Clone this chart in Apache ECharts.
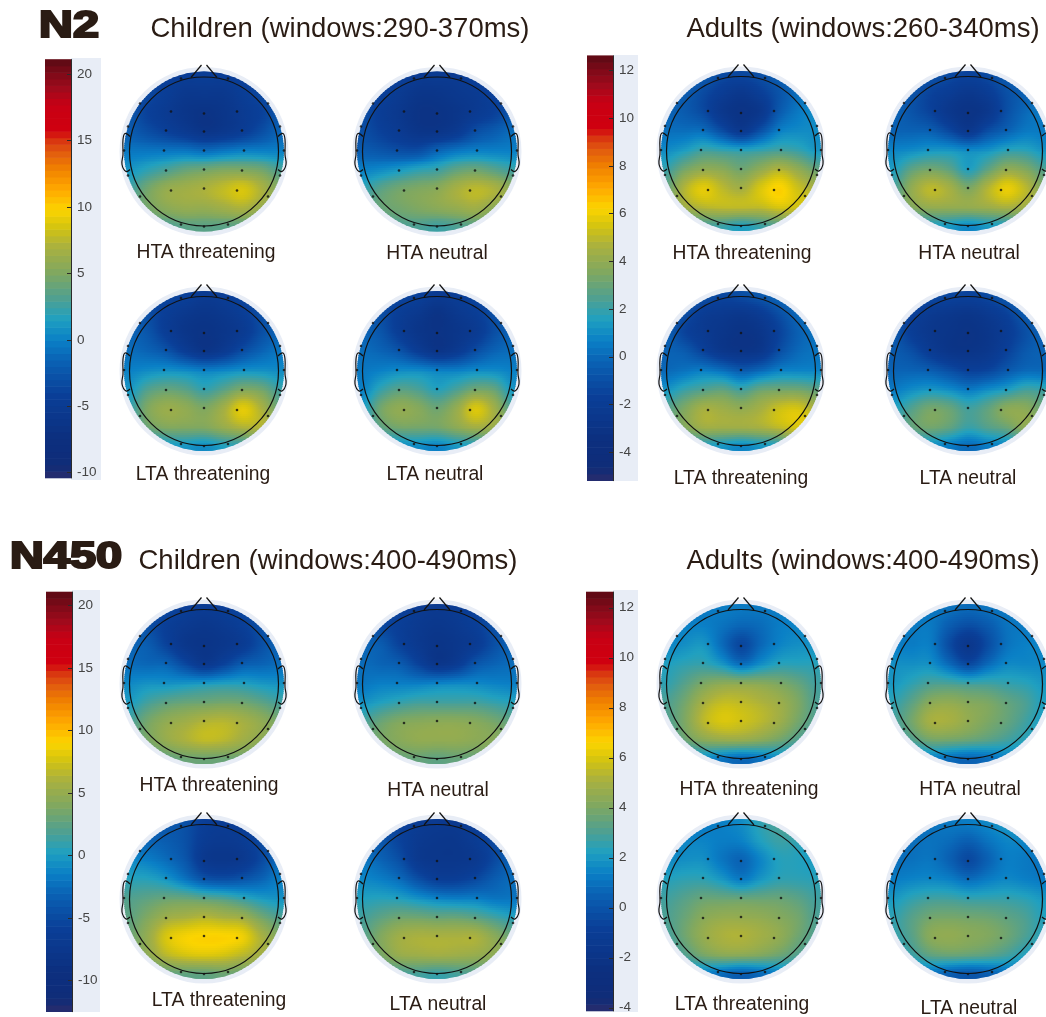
<!DOCTYPE html>
<html><head><meta charset="utf-8"><style>html,body{margin:0;padding:0;background:#fff}#c{width:1046px;height:1017px}</style>
<script src="https://cdn.jsdelivr.net/npm/echarts@6/dist/echarts.min.js"></script></head><body><div id="c"></div><script>
// Scalp grid (head units), rows top to bottom, columns left to right
const gridNodes=[-76,-57,-38,-19,0,19,38,57,76];
const electrodeX=[-33,0,33,-38,0,38,-40,0,40,-38,0,38,-33,0,33,-23,24,-64,64,-76,76,-80,80,-76,76,-64,64,-23,0,24];
const electrodeY=[-40,-38,-40,-21,-20,-21,-1,-1,-1,19,18,19,39,37,39,-73,-73,-48,-48,-25,-25,-1,-1,24,24,45,45,73,75,73];
const childTicksN2=[-10,-5,0,5,10,15,20];
const adultTicks=[-4,-2,0,2,4,6,8,10,12];
const childTicksN450=[-10,-5,0,5,10,15,20];

// N2 children (µV)
const n2ChildHtaThreat=[
[-3.5,-3.5,-4,-4.5,-4.5,-4.5,-4,-3.5,-3.5],[-3,-3.5,-4.5,-5.5,-5.5,-5.5,-4.5,-3.5,-3],[-2.5,-4,-5,-6,-6.5,-6,-5,-4,-2.5],
[-2,-3,-4,-5,-6,-5.5,-4.5,-3,-1.5],[-.5,-.5,-.5,-.5,-1,-.5,0,0,0],[1,2,3,4,4.5,5,5,4.5,3],
[2.5,4.5,6,6.5,7,7.8,8.6,7,5],[3.5,4.5,5.5,6,6,6.5,7,6,5],[3,3,3,3.5,3.5,3.5,3.5,3.5,3.5]];
const n2ChildHtaNeutral=[
[-3.5,-3.5,-4,-5,-5,-5,-4,-3.5,-3.5],[-3,-4,-5,-6,-6,-5.5,-5,-4,-3],[-3,-4.5,-5.5,-6.5,-6.5,-6,-5,-4,-2.5],
[-3,-4,-5,-6,-6,-5,-3,-2,-1],[-2,-2.5,-3,-3,-1.5,-.5,0,0,0],[0,.5,1.2,2,2.5,3.8,4.3,3.5,2.5],
[2,3.5,4.5,5,5.5,6.8,7.6,7,5.5],[3,4,4.5,5,5.5,6,6.5,5.5,5],[2.5,2.5,3,3,2.5,3,3.5,3.5,3.5]];
const n2ChildLtaThreat=[
[-3,-3,-3.5,-4,-5,-4.5,-3.5,-3,-3],[-2,-3,-4.5,-5.5,-6,-5.5,-4.5,-3,-2],[-1.5,-2.5,-4.5,-6,-6.5,-6,-5,-3,-1.5],
[-1,-1.5,-2.5,-4.5,-6,-5,-3,-1.5,-.5],[0,.5,.8,.5,0,.3,.8,.8,.5],[1,3.2,4,3.5,2.3,3.5,5,4.5,2.5],
[2,5,6.2,5.8,5,6.6,9,7,4],[1.5,4,5,5,5,6,7,7,6],[.5,.5,1,1,.5,1.5,2,3,4]];
const n2ChildLtaNeutral=[
[-3,-3,-3.5,-4,-5,-4.5,-3.5,-3,-3],[-2,-3,-4.5,-5.5,-6.5,-5.5,-4.5,-3,-2],[-1.5,-2.5,-4.5,-6,-6.5,-6,-5,-3,-1.5],
[-1,-1.5,-2.5,-4.5,-6,-5,-3,-1.5,-1],[-.5,0,.5,.5,0,0,.5,.5,0],[0,2.2,3.5,3,1.8,3,4.5,4,1],
[1,4.5,5.8,5.3,4.3,6,8.7,6.5,3],[1,3.5,4.5,4.5,4.5,5.5,6.5,6,5],[.5,.5,.5,.5,0,1,1.5,2.5,3]];
// N2 adults (µV)
const n2AdultHtaThreat=[
[-.3,-.3,-.5,-1.2,-1.3,-1,-.3,.3,.5],[-.2,-.5,-1.2,-2,-2.5,-1.8,-.8,.2,.8],[-.2,-.5,-1.2,-2.5,-3,-2.5,-.5,.5,1],
[.2,.2,.2,-1,-2.2,-.8,.7,1,1],[1,1.5,2.2,2,1.8,2,2.3,2,1.3],[2,3.3,4,3.8,3.2,4,4.8,4,3],
[2.8,4.8,5.8,5,4.5,5.6,6.3,5.3,4.5],[2.8,4.2,4.8,5,5,5,5.5,5.3,5.5],[1.5,2,2.2,2,1.5,2,2.5,3,3.5]];
const n2AdultHtaNeutral=[
[-.5,-.5,-.8,-1.2,-1.5,-1.2,-.5,-.2,0],[-.3,-.8,-1.5,-2,-2.5,-2,-1,-.3,.2],[-.2,-.8,-1.5,-2.5,-3,-2.5,-1,0,.5],
[-.2,-.2,-.3,-1.2,-2.3,-1,-.2,.5,.5],[.8,1,1.3,1.3,1,1.2,1.8,1.8,1.2],[1.5,2.8,3.3,2.8,1.6,2.8,4,3.6,2.5],
[2.2,4,5,4.5,3.5,4.8,5.9,5,3.5],[2.5,3.5,4,4,4,4.2,4.5,4.2,4],[1.3,1.5,1.5,1.3,.8,1.3,1.5,2.3,3]];
const n2AdultLtaThreat=[
[-.2,-.2,-.8,-1.3,-1,-.6,0,.3,.5],[-.3,-1,-2,-2.3,-2.5,-2,-1,0,.5],[-.3,-1.5,-2.2,-2.7,-3,-2.7,-1.5,-.3,.3],
[-.2,-.5,-1.5,-2.5,-2.8,-2.5,-1,0,.3],[0,.3,.6,.2,-.5,0,.7,.8,.8],[1.2,2,2.5,2.8,2.2,3,3.2,3.2,2.8],
[2.5,3.5,4.5,4.3,4,4.5,5.3,5.5,4.5],[2.5,3.5,4.3,4.3,4.3,4.5,5,5.5,5.5],[1.5,1.5,1.5,1.2,.8,1.2,1.5,3,3.5]];
const n2AdultLtaNeutral=[
[-.5,-.5,-1,-1.3,-1.5,-1.2,-.5,0,.2],[-.6,-1.5,-2.2,-2.5,-2.7,-2.3,-1.6,-.5,0],[-.6,-1.8,-2.5,-2.8,-3,-2.7,-2,-1,-.2],
[-.5,-1,-2,-2.7,-2.8,-2.5,-1.6,-.6,-.2],[-.2,-.2,-.4,-1,-1.6,-1.4,-.6,0,0],[.5,1,1.3,1,.5,1,1.5,2.2,2],
[1.5,2.5,3.3,3,2.2,2.8,3.8,3.8,3],[1.8,2.8,3.2,2.8,2,2.5,3,3.8,3.2],[.8,1,1,.5,0,.5,.8,1.5,2]];
// N450 children (µV)
const n450ChildHtaThreat=[
[-4.5,-4.5,-5,-6,-6.5,-6,-5,-4.5,-4.5],[-3.5,-4.5,-6,-7,-7.5,-7,-6,-4.5,-3.5],[-3,-3.5,-5.5,-7.5,-8,-7.5,-6.5,-4.5,-3],
[-2.5,-2.8,-3,-5,-7,-5.5,-3.5,-3,-2.5],[-1,-.5,-.5,-.3,0,.3,.3,-.2,-.5],[0,1.5,2.5,3,3.2,3.5,3.3,2.5,1.5],
[1.5,3.5,4.8,5.5,6.3,6.5,5.8,4.8,3.5],[2,3.5,5,6,6.8,6.5,5.5,4.5,3.5],[1.5,2,2.5,3,3,3,3,3,3]];
const n450ChildHtaNeutral=[
[-4.5,-4.5,-5.5,-6.5,-7,-6.5,-5.5,-4.5,-4.5],[-3.5,-5,-6,-7,-7.5,-7,-6,-4.5,-3.5],[-3,-3.5,-5.5,-7,-8,-7.5,-6.5,-4.5,-3],
[-2.5,-3,-3.5,-5.5,-7.5,-6.5,-4,-3,-2.5],[-2,-1.5,-1.5,-1.5,-1.2,-1,-1,-1.3,-1.5],[-.5,.3,1,1.5,1.5,1.5,1.5,1,.5],
[1.5,3,4,4.3,4.5,4.5,4.2,3.5,2.5],[2.5,3.5,4.3,4.8,4.8,4.8,4.5,4.2,3.5],[2,2.5,2.8,2.8,2.5,2.8,2.8,3.2,3.2]];
const n450ChildLtaThreat=[
[-4,-4,-4,-4.5,-6,-6.5,-6,-5,-4.5],[-3,-3,-3.5,-4.5,-6.5,-7,-6.5,-5,-3.5],[-1,-1.5,-2.5,-4,-7,-7.5,-7,-5,-2.5],
[.5,.5,-.3,-2,-4,-4.5,-4,-3,-1.5],[2,2.5,3,3,2.5,2,1,0,-.5],[2.5,4,5.5,6,6.5,6,5.5,3.5,2],
[3,5,7.8,8.8,9.1,9.1,8.6,6,4],[3,4.5,6.5,7.5,7.8,7.5,6.5,5.5,5.5],[1.5,2,2.5,2.5,2.5,3,3,4,4.5]];
const n450ChildLtaNeutral=[
[-5,-5,-5.5,-6.5,-7,-7,-6,-5,-4.5],[-3.5,-4,-5.5,-7,-7.5,-7.5,-6.5,-5,-3.5],[-2,-3,-4.5,-7,-7.5,-7.5,-7,-5,-3],
[-1,-1.5,-2.5,-4.5,-6,-6,-5,-3.5,-2.5],[.3,.5,.3,-.5,-1.2,-1.5,-1.5,-2,-2],[1.5,2.5,3.3,3.3,3,3,2.5,1.5,.5],
[2,4,5.5,6,6,6,6,4.5,3],[2,3.5,5,5.3,5.5,5.3,5,4.5,4],[1,1.5,1.5,1.5,1,1.5,2,2.5,3]];
// N450 adults (µV)
const n450AdultHtaThreat=[
[1,1,1.2,1.3,1.2,1.2,1.3,1.5,1.5],[1.2,1.4,1.4,1,.6,.8,1.3,1.5,1.6],[1.5,1.8,2,.8,-.5,.7,1.5,1.8,1.8],
[2.2,2.5,2.6,2,1,1.8,2.4,2.4,2.4],[2.5,3.2,4,4.4,4.4,4.3,4,3.5,2.8],[3,3.8,5,5.6,5.5,5.2,4.8,4,3],
[3,4,5.4,6,5.8,5.4,4.8,3.8,3],[2.5,3.5,4.2,4.5,4.5,4.2,3.7,3,2.5],[1.5,1.6,1.6,1,.6,1,1.6,1.6,1.7]];
const n450AdultHtaNeutral=[
[1,1,1.1,1,.8,1,1.2,1.2,1.3],[1.2,1.2,1.2,.3,-.3,.2,1,1.2,1.3],[1.3,1.3,1.3,-.3,-1.6,-.3,1,1.4,1.5],
[1.8,1.8,1.8,.8,-.3,.8,1.6,1.6,1.6],[2,2.5,3,3,2.8,2.8,2.6,2.4,2],[2.5,3.3,4.3,4.5,4.2,4,3.5,3,2.2],
[2.8,3.8,5,5,4.5,4,3.5,2.8,2],[2.3,3,3.7,3.7,3.5,3.2,2.8,2.3,1.8],[1.3,1.4,1.3,.8,.5,.8,1.3,1.4,1.5]];
const n450AdultLtaThreat=[
[1,1,1.2,1.4,1.7,2.5,3,3.2,3],[1.3,1.5,1.5,1.3,1.4,2.2,2.7,2.5,2],[1.6,1.8,1.8,1.1,.6,1.5,2.3,2.3,2],
[2.3,2.5,2.5,2,1.3,2,2.5,2.5,2.4],[2.8,3.2,3.6,3.6,3.6,3.6,3.6,3.3,2.8],[3,3.6,4.3,4.6,4.6,4.5,4.2,3.8,3],
[2.8,3.7,4.6,5.1,5.2,4.9,4.5,3.7,3],[2.3,3,3.8,4.2,4.2,4,3.6,3,2.5],[1.3,1.5,1.3,.7,.3,.7,1.3,1.5,1.7]];
const n450AdultLtaNeutral=[
[.8,.8,1,1.2,1.3,1.6,2,2,2],[.8,.9,1,.8,.4,1,1.5,1.5,1.3],[.9,1,1.1,.5,-.4,.5,1.3,1.2,1],
[1.3,1.5,1.6,1.4,.9,1.3,1.6,1.4,1.2],[2,2.5,2.8,2.8,2.6,2.6,2.6,2.4,2],[2.5,3.2,3.8,3.9,3.8,3.7,3.4,3,2.3],
[2.5,3.2,4.3,4.5,4.3,4.1,3.7,3,2.3],[2,2.6,3.3,3.5,3.4,3.2,2.8,2.2,1.8],[1,1.1,1,.3,0,.3,.9,1.1,1.3]];

const colorStops=[[0,'#2a2c6c'],[.03,'#0f2c78'],[.1,'#0c3080'],[.2,'#0a3f98'],[.28,'#0a62b4'],[.33,'#0a80c6'],[.38,'#20a0c0'],[.43,'#50a090'],[.49,'#80a860'],[.55,'#a8b040'],[.6,'#d4c410'],[.64,'#fbd400'],[.69,'#ffa800'],[.74,'#f08000'],[.78,'#e05a10'],[.81,'#d83010'],[.83,'#d00010'],[.89,'#c80014'],[.93,'#a00a1c'],[.97,'#7a0a18'],[1,'#5a0a14']];
const rgbStops=colorStops.map(s=>[s[0],parseInt(s[1].slice(1,3),16),parseInt(s[1].slice(3,5),16),parseInt(s[1].slice(5,7),16)]);
function colorAt(t){t=Math.max(0,Math.min(1,t));let i=0;while(i<rgbStops.length-2&&t>rgbStops[i+1][0])i++;const a=rgbStops[i],b=rgbStops[i+1],f=(t-a[0])/(b[0]-a[0]);
 return 'rgb('+[1,2,3].map(k=>Math.round(a[k]+(b[k]-a[k])*f)).join(',')+')';}

const scales={childN2:{min:-10.4,max:21.1,ticks:childTicksN2},adultN2:{min:-5.2,max:12.63,ticks:adultTicks},childN450:{min:-12.5,max:21.1,ticks:childTicksN450},adultN450:{min:-4.13,max:12.63,ticks:adultTicks}};
const maps=[
[n2ChildHtaThreat,'childN2',204,151.5],[n2ChildHtaNeutral,'childN2',437,151.5],[n2ChildLtaThreat,'childN2',204,371],[n2ChildLtaNeutral,'childN2',437,371],
[n2AdultHtaThreat,'adultN2',741,151],[n2AdultHtaNeutral,'adultN2',968,151],[n2AdultLtaThreat,'adultN2',741,371],[n2AdultLtaNeutral,'adultN2',968,371],
[n450ChildHtaThreat,'childN450',204,684],[n450ChildHtaNeutral,'childN450',437,684],[n450ChildLtaThreat,'childN450',204,899],[n450ChildLtaNeutral,'childN450',437,899],
[n450AdultHtaThreat,'adultN450',741,684],[n450AdultHtaNeutral,'adultN450',968,684],[n450AdultLtaThreat,'adultN450',741,899],[n450AdultLtaNeutral,'adultN450',968,899]];
const bars=[['childN2',45,26,59.5,418.5,71,101,58,480],['adultN2',587,26,55.7,425,613,638,55,481],['childN450',46,26,592,419.7,72,100,590,1012],['adultN450',586,27,592,419,613,638,590,1012]];
const TITLE=27.5,LABEL=19.3;
const texts=[
['N2',69,27,36,900],['N450',66,558,36,900],
['Children (windows:290-370ms)',340,29,TITLE],['Adults (windows:260-340ms)',863,29,TITLE],['Children (windows:400-490ms)',328,561,TITLE],['Adults (windows:400-490ms)',863,561,TITLE],
['HTA threatening',206,253,LABEL],['HTA neutral',437,254,LABEL],['LTA threatening',203,475,LABEL],['LTA neutral',435,475,LABEL],
['HTA threatening',742,254,LABEL],['HTA neutral',969,254,LABEL],['LTA threatening',741,479,LABEL],['LTA neutral',968,479,LABEL],
['HTA threatening',209,786,LABEL],['HTA neutral',438,791,LABEL],['LTA threatening',219,1001,LABEL],['LTA neutral',438,1005,LABEL],
['HTA threatening',749,790,LABEL],['HTA neutral',970,790,LABEL],['LTA threatening',742,1005,LABEL],['LTA neutral',969,1009,LABEL]];

const STEP=19,DISC=80,HALF=78;
function cubic(p0,p1,p2,p3,u){return p1+.5*u*(p2-p0+u*(2*p0-5*p1+4*p2-p3+u*(3*(p1-p2)+p3-p0)));}
function sampler(m){const n=m.length;const at=(r,c)=>m[Math.max(0,Math.min(n-1,r))][Math.max(0,Math.min(n-1,c))];
 return (r,c)=>{const r0=Math.floor(r),c0=Math.floor(c),fr=r-r0,fc=c-c0;const row=[];for(let i=-1;i<3;i++)row.push(cubic(at(r0+i,c0-1),at(r0+i,c0),at(r0+i,c0+1),at(r0+i,c0+2),fc));return cubic(row[0],row[1],row[2],row[3],fr);};}

const grid=[],xAxis=[],yAxis=[],series=[];
function addAxes(g,x,y){grid.push(g);xAxis.push(x);yAxis.push(y);return grid.length-1;}
maps.forEach(([m,sk,cx,cy])=>{
 const sc=scales[sk],idx=addAxes({left:cx-HALF,top:cy-HALF,width:2*HALF,height:2*HALF},{type:'value',min:-HALF,max:HALF,show:false,gridIndex:grid.length},{type:'value',min:-HALF,max:HALF,inverse:true,show:false,gridIndex:grid.length});
 const s=sampler(m),cells=[];
 m.forEach((row,r)=>row.forEach((v,c)=>cells.push([gridNodes[c],gridNodes[r],v,c,r])));
 const base={xAxisIndex:idx,yAxisIndex:idx,silent:true,animation:false,clip:false,encode:{x:0,y:1}};
 series.push(Object.assign({},base,{type:'custom',z:1,data:[[0,0]],renderItem:(p,api)=>{const c=api.coord([0,0]);return {type:'circle',shape:{cx:c[0],cy:c[1],r:84.5},style:{fill:'#e8edf6'}};}}));
 series.push(Object.assign({},base,{type:'custom',z:2,data:cells,renderItem:(p,api)=>{
  const c=api.coord([api.value(0),api.value(1)]),sz=api.coord([STEP,0])[0]-api.coord([0,0])[0],col=api.value(3),row=api.value(4),o=api.coord([0,0]),K=10,Q=8,children=[];
  const hh=sz/K,x0=Math.round(c[0]-sz/2),x1=Math.round(c[0]+sz/2);
  for(let j=0;j<K;j++){const rr=row-.5+(j+.5)/K,stops=[];for(let q=0;q<=Q;q++){const cc=col-.5+q/Q;stops.push({offset:q/Q,color:colorAt((s(Math.max(0,Math.min(8,rr)),Math.max(0,Math.min(8,cc)))-sc.min)/(sc.max-sc.min))});}
   const y0=Math.floor(c[1]-sz/2+j*hh),y1=Math.ceil(c[1]-sz/2+(j+1)*hh);
   children.push({type:'rect',shape:{x:x0,y:y0,width:x1-x0,height:y1-y0},style:{fill:new echarts.graphic.LinearGradient(0,0,1,0,stops)}});}
  return {type:'group',children,clipPath:{type:'circle',shape:{cx:o[0],cy:o[1],r:DISC}}};
 }}));
 series.push(Object.assign({},base,{type:'custom',z:3,data:[[0,0]],renderItem:(p,api)=>{
  const pt=(x,y)=>api.coord([x,y]),o=pt(0,0),ls={stroke:'#111',fill:'none',lineWidth:1.2};
  return {type:'group',children:[
   {type:'circle',shape:{cx:o[0],cy:o[1],r:74.5},style:ls},
   {type:'polyline',shape:{points:[pt(-13,-74),pt(-2.5,-86.5)]},style:ls},{type:'polyline',shape:{points:[pt(13,-74),pt(2.5,-86.5)]},style:ls},
   {type:'polyline',shape:{smooth:.4,points:[pt(-74,-15),pt(-79,-18),pt(-81,-12),pt(-81,3),pt(-82,13),pt(-78,20),pt(-74,18)]},style:ls},
   {type:'polyline',shape:{smooth:.4,points:[pt(74,-15),pt(79,-18),pt(81,-12),pt(81,3),pt(82,13),pt(78,20),pt(74,18)]},style:ls}]};
 }}));
 series.push(Object.assign({},base,{type:'scatter',z:4,symbolSize:2.6,itemStyle:{color:'#111'},data:electrodeX.map((x,i)=>[x,electrodeY[i]])}));
});
const graphic=[];
bars.forEach(([sk,l,w,t,h,bx0,bx1,by0,by1])=>{
 const sc=scales[sk];
 graphic.push({type:'rect',z:-10,shape:{x:bx0,y:by0,width:bx1-bx0,height:by1-by0},style:{fill:'#e8edf6'}});
 const idx=addAxes({left:l,top:t,width:w,height:h},{type:'value',min:0,max:1,show:false,gridIndex:grid.length},{type:'value',min:sc.min,max:sc.max,position:'right',z:5,gridIndex:grid.length,splitLine:{show:false},
  axisLine:{show:true,onZero:false,lineStyle:{color:'#2b2b2b',width:1}},axisTick:{show:true,inside:true,length:4,customValues:sc.ticks,lineStyle:{color:'#2b2b2b'}},axisLabel:{customValues:sc.ticks,color:'#444',fontSize:13.5,fontFamily:'Liberation Sans',margin:6}});
 const N=64,lv=[];for(let i=0;i<N;i++)lv.push([0,sc.min+(sc.max-sc.min)*i/N,sc.min+(sc.max-sc.min)*(i+1)/N,(i+.5)/N]);
 series.push({type:'custom',xAxisIndex:idx,yAxisIndex:idx,silent:true,animation:false,z:2,encode:{x:0,y:1},data:lv,renderItem:(p,api)=>{
  const a=api.coord([0,api.value(2)]),b=api.coord([1,api.value(1)]);return {type:'rect',shape:{x:a[0],y:a[1]-.3,width:b[0]-a[0],height:b[1]-a[1]+.6},style:{fill:colorAt(api.value(3))}};}});
});
texts.forEach(([t,x,y,fs,wt])=>graphic.push({type:'text',z:100,x,y,scaleX:wt?1.3:1,style:{text:t,textAlign:'center',textVerticalAlign:'middle',fontFamily:'Liberation Sans',fontSize:fs,fontWeight:wt?'bold':'normal',fill:'#2a1c14',stroke:wt?'#2a1c14':undefined,lineWidth:wt?2.2:0}}));

const chart=echarts.init(document.getElementById('c'),null,{renderer:'canvas'});
chart.setOption({animation:false,backgroundColor:'#fff',grid,xAxis,yAxis,series,graphic});
</script></body></html>
